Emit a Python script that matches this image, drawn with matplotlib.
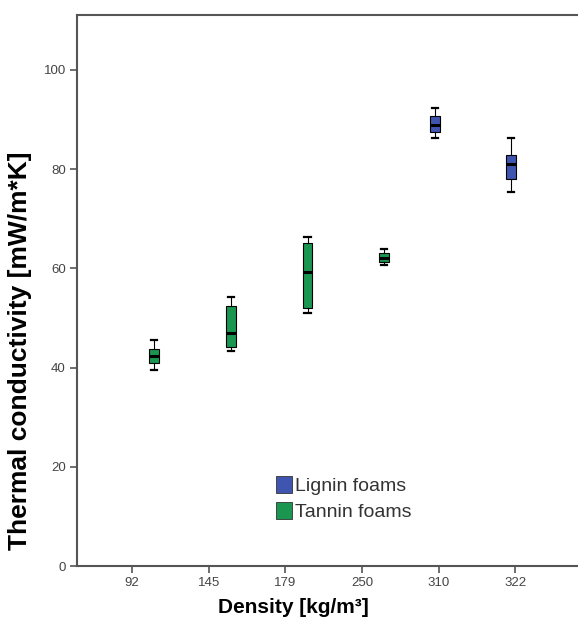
"""Grouped boxplot of thermal conductivity vs density for lignin and tannin foams"""

import matplotlib
matplotlib.use("Agg")
import matplotlib.pyplot as plt
from matplotlib.patches import Patch

# data
densities = ["92", "145", "179", "250", "310", "322"]
foam_type = ["Tannin", "Tannin", "Tannin", "Tannin", "Lignin", "Lignin"]
whis_lo = [39.5, 43.3, 51.0, 60.7, 86.3, 75.3]
q1 = [41.0, 44.2, 52.0, 61.3, 87.5, 78.0]
median = [42.3, 47.0, 59.3, 62.1, 88.9, 81.0]
q3 = [43.8, 52.5, 65.1, 63.1, 90.7, 82.9]
whis_hi = [45.5, 54.2, 66.3, 63.9, 92.3, 86.3]

colors = {"Lignin": "#3f55b0", "Tannin": "#1b9650"}
offsets = {"Lignin": -0.05, "Tannin": 0.29}
labels = {"Lignin": "Lignin foams", "Tannin": "Tannin foams"}

plt.rcParams["font.family"] = ["Liberation Sans", "DejaVu Sans"]

fig = plt.figure(figsize=(5.78, 6.28), dpi=100)
ax = fig.add_axes([0.133, 0.0987, 0.867, 0.877])

spine_col = "#555555"
for i, d in enumerate(densities):
    g = foam_type[i]
    stats = [{"whislo": whis_lo[i], "q1": q1[i], "med": median[i],
              "q3": q3[i], "whishi": whis_hi[i], "fliers": []}]
    ax.bxp(stats, positions=[i + offsets[g]], widths=0.13, capwidths=0.08,
           patch_artist=True, showfliers=False, manage_ticks=False,
           boxprops=dict(facecolor=colors[g], edgecolor="black", linewidth=0.8),
           medianprops=dict(color="black", linewidth=2.2),
           whiskerprops=dict(color="black", linewidth=0.8),
           capprops=dict(color="black", linewidth=1.6))

ax.set_xlim(-0.72, 5.82)
ax.set_ylim(0, 111)
ax.set_xticks(range(len(densities)))
ax.set_xticklabels(densities)
ax.set_yticks([0, 20, 40, 60, 80, 100])

for side in ["left", "bottom", "top"]:
    ax.spines[side].set_color(spine_col)
    ax.spines[side].set_linewidth(1.5)
ax.spines["right"].set_visible(False)
ax.tick_params(axis="both", direction="out", length=5, width=1.2,
               color=spine_col, labelsize=9.5, labelcolor="#444444", pad=3)

ax.set_xlabel("Density [kg/m³]", fontsize=15, fontweight="bold")
ax.xaxis.set_label_coords(0.433, -0.058)
ax.set_ylabel("Thermal conductivity [mW/m*K]", fontsize=19,
              fontweight="bold")
ax.yaxis.set_label_coords(-0.09, 0.39)

# legend
handles = [Patch(facecolor=colors[k], edgecolor="#333333", linewidth=0.6,
                 label=labels[k]) for k in ["Lignin", "Tannin"]]
ax.legend(handles=handles, loc="upper left", bbox_to_anchor=(0.377, 0.182),
          frameon=False, fontsize=14, handlelength=0.85, handleheight=1.0,
          handletextpad=0.15, labelspacing=0.35, borderpad=0,
          labelcolor="#333333")

fig.savefig("out.png", dpi=100)
